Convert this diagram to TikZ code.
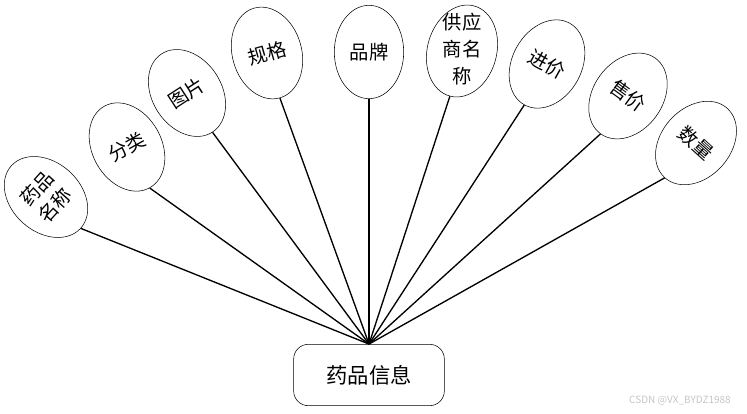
\documentclass[tikz,border=0pt]{standalone}
\usepackage{fontspec}
\setmainfont{Noto Sans CJK SC}
\usepackage{tikz}
\usetikzlibrary{shapes.geometric}

\begin{document}
\begin{tikzpicture}[x=0.75pt,y=-0.75pt,
    attr/.style={draw,ellipse,thin,inner sep=0pt,minimum width=52pt,minimum height=70pt,
      align=center,font=\fontsize{14.5pt}{19pt}\selectfont},
    entity/.style={draw,thin,rounded corners=11pt,minimum width=113pt,minimum height=46pt,
      font=\fontsize{16pt}{19pt}\selectfont},
    link/.style={line width=1pt}]
  \useasboundingbox (0,0) rectangle (747,414);
  % entity
  \node[entity] (info) at (369,375) {药品信息};
  % attributes
  \node[attr,rotate=48]  (mc) at (46,197)  {药品\\名称};
  \node[attr,rotate=29]  (fl) at (127,147) {分类};
  \node[attr,rotate=33]  (tp) at (187,93)  {图片};
  \node[attr,rotate=16]  (gg) at (267,53)  {规格};
  \node[attr]            (pp) at (369,52)  {品牌};
  \node[attr,rotate=-15] (gys) at (462,51) {};
  \node[align=center,font=\fontsize{14.5pt}{20pt}\selectfont] (gystxt) at (462,49) {供应\\商名\\称};
  \node[attr,rotate=-29] (jj) at (547,64)  {进价};
  \node[attr,rotate=-36] (sj) at (628,96)  {售价};
  \node[attr,rotate=-42] (sl) at (696,143) {数量};
  % links
  \foreach \a in {mc,fl,tp,gg,pp,gys,jj,sj,sl}{
    \draw[link] (info.north) -- (\a.south);
  }
  \node[text=gray!45,font=\fontsize{7.5pt}{9pt}\selectfont] (wm) at (680,401) {CSDN @VX\_BYDZ1988};
\end{tikzpicture}
\end{document}
